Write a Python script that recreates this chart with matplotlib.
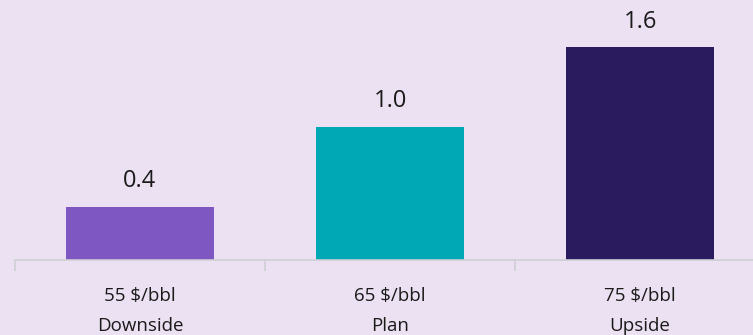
import matplotlib.pyplot as plt
import numpy as np

# donnees
categories = ['55 $/bbl\nDownside', '65 $/bbl\nPlan', '75 $/bbl\nUpside']
values = [0.4, 1.0, 1.6]
labels = ['0.4', '1.0', '1.6']
colors = ['#7E57C2', '#00A8B5', '#2A1A5E']

plt.rcParams['font.family'] = ['Open Sans', 'DejaVu Sans']

fig = plt.figure(figsize=(7.53, 3.35), dpi=100)
fig.patch.set_facecolor('#ECE1F2')

# axes qui depasse a droite comme dans l'image
ax = fig.add_axes([15 / 753, 75 / 335, 750 / 753, 260 / 335])
ax.set_facecolor('none')

x = np.arange(len(values))
ax.bar(x, values, width=0.592, color=colors)

for xi, v, lab in zip(x, values, labels):
    ax.text(xi, v + 0.19, lab, ha='center', va='center', fontsize=17, color='#1a1a1a')

ax.set_xlim(-0.5, 2.5)
ax.set_ylim(0, 260 / 133.2)

for s in ['top', 'right', 'left']:
    ax.spines[s].set_visible(False)
ax.spines['bottom'].set_color('#CFCFD4')
ax.spines['bottom'].set_linewidth(1.2)

ax.set_yticks([])
ax.set_xticks([-0.5, 0.5, 1.5, 2.5])
ax.set_xticklabels([])
ax.tick_params(axis='x', length=8, width=1.2, color='#CFCFD4')

for xi, cat in zip(x, categories):
    ax.text(xi, -0.2, cat, ha='center', va='top', fontsize=13.5,
            color='#1a1a1a', linespacing=1.85, transform=ax.transData, clip_on=False)

fig.savefig('out.png', dpi=100, facecolor=fig.get_facecolor())
